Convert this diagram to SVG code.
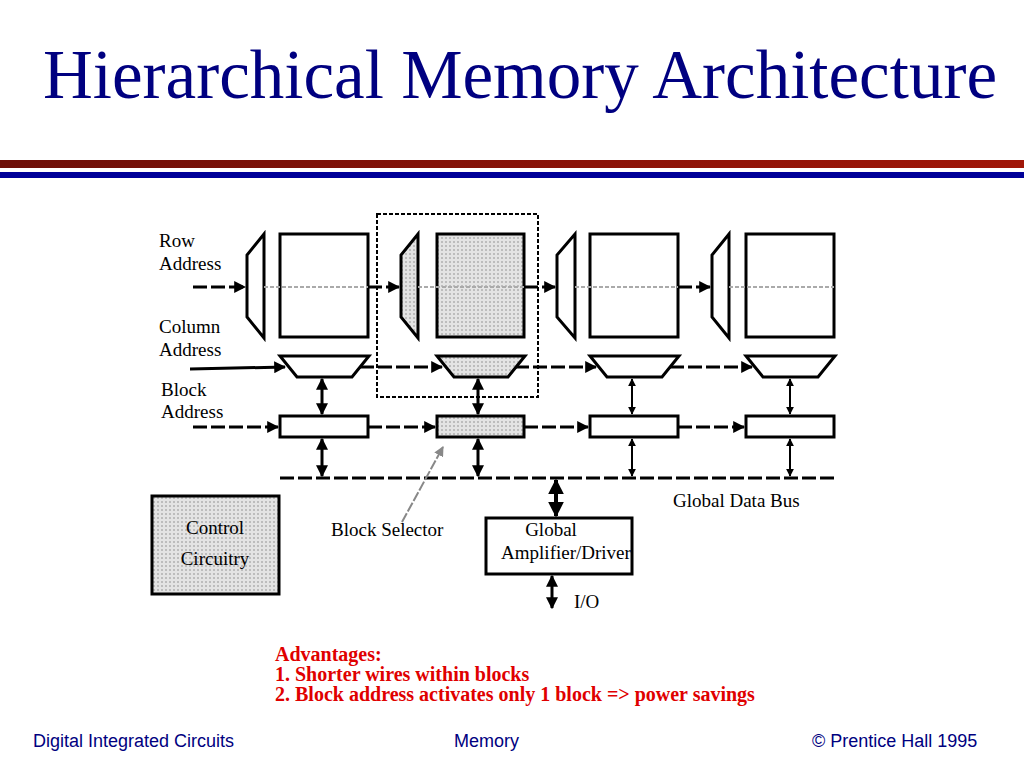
<svg xmlns="http://www.w3.org/2000/svg" width="1024" height="768" viewBox="0 0 1024 768">
<defs>
<linearGradient id="rg" x1="0" x2="1"><stop offset="0" stop-color="#6e0f08"/><stop offset="1" stop-color="#a01608"/></linearGradient>
<pattern id="dots" width="4" height="4" patternUnits="userSpaceOnUse"><rect width="4" height="4" fill="#e4e4e4"/><circle cx="2" cy="2" r="1" fill="#b0b0b0"/></pattern>
<marker id="ah" viewBox="0 0 10 10" refX="9" refY="5" markerWidth="4" markerHeight="4" orient="auto-start-reverse"><path d="M0,0L10,5L0,10z" fill="#000"/></marker>
<marker id="ag" viewBox="0 0 10 10" refX="9" refY="5" markerWidth="5" markerHeight="5" orient="auto"><path d="M0,0L10,5L0,10z" fill="#888"/></marker>
</defs>
<style>
.b{fill:#fff;stroke:#000;stroke-width:3}
.s{fill:url(#dots);stroke:#000;stroke-width:3}
.w{stroke:#000;stroke-width:3;fill:none}
.d{stroke:#000;stroke-width:3;fill:none;stroke-dasharray:14 4}
.g{stroke:#aaa;stroke-width:2;stroke-dasharray:4 2}
.t{font-family:"Liberation Serif",serif;font-size:19px;fill:#000}
.f{font-family:"Liberation Sans",sans-serif;font-size:18px;fill:#000080}
.r{font-family:"Liberation Serif",serif;font-size:20px;font-weight:bold;fill:#e00000}
</style>
<rect width="1024" height="768" fill="#fff"/>
<text x="520" y="98" text-anchor="middle" font-family="Liberation Serif,serif" font-size="69" fill="#000080">Hierarchical Memory Architecture</text>
<rect x="0" y="160" width="1024" height="8" fill="url(#rg)"/>
<rect x="0" y="172" width="1024" height="6" fill="#000099"/>

<g id="selection"><rect x="377" y="214" width="161" height="183" fill="none" stroke="#000" stroke-width="2" stroke-dasharray="4 2"/></g>

<g id="connectors">
<line class="d" x1="193" y1="287" x2="245" y2="287" marker-end="url(#ah)"/>
<line class="d" x1="368" y1="287" x2="399" y2="287" marker-end="url(#ah)"/>
<line class="d" x1="524" y1="287" x2="555" y2="287" marker-end="url(#ah)"/>
<line class="d" x1="678" y1="287" x2="710" y2="287" marker-end="url(#ah)"/>
<line class="w" x1="190" y1="369" x2="285" y2="367" stroke-width="2" marker-end="url(#ah)"/>
<line class="d" x1="360" y1="367" x2="442" y2="367" marker-end="url(#ah)"/>
<line class="d" x1="515" y1="367" x2="596" y2="367" marker-end="url(#ah)"/>
<line class="d" x1="670" y1="367" x2="752" y2="367" marker-end="url(#ah)"/>
<line class="d" x1="193" y1="427" x2="278" y2="427" marker-end="url(#ah)"/>
<line class="d" x1="368" y1="427" x2="435" y2="427" marker-end="url(#ah)"/>
<line class="d" x1="524" y1="427" x2="588" y2="427" marker-end="url(#ah)"/>
<line class="d" x1="678" y1="427" x2="744" y2="427" marker-end="url(#ah)"/>
<line class="d" x1="280" y1="478" x2="836" y2="478"/>
<g stroke="#000" stroke-width="3">
<line x1="322" y1="379" x2="322" y2="414" marker-start="url(#ah)" marker-end="url(#ah)"/>
<line x1="322" y1="439" x2="322" y2="476" marker-start="url(#ah)" marker-end="url(#ah)"/>
<line x1="478" y1="379" x2="478" y2="414" marker-start="url(#ah)" marker-end="url(#ah)"/>
<line x1="478" y1="439" x2="478" y2="476" marker-start="url(#ah)" marker-end="url(#ah)"/>
<line x1="632" y1="379" x2="632" y2="414" stroke-width="2" marker-start="url(#ah)" marker-end="url(#ah)"/>
<line x1="632" y1="439" x2="632" y2="476" stroke-width="2" marker-start="url(#ah)" marker-end="url(#ah)"/>
<line x1="790" y1="379" x2="790" y2="414" stroke-width="2" marker-start="url(#ah)" marker-end="url(#ah)"/>
<line x1="790" y1="439" x2="790" y2="476" stroke-width="2" marker-start="url(#ah)" marker-end="url(#ah)"/>
<line x1="556" y1="480" x2="556" y2="516" stroke-width="4" marker-start="url(#ah)" marker-end="url(#ah)"/>
<line x1="552" y1="576" x2="552" y2="608" marker-start="url(#ah)" marker-end="url(#ah)"/>
</g>
<line x1="402" y1="522" x2="443" y2="447" stroke="#888" stroke-width="2" stroke-dasharray="10 2" marker-end="url(#ag)"/>
</g>

<g id="block1">
<path class="b" d="M264,234L264,338L247,317L247,255Z" stroke-width="2.5"/>
<rect class="b" x="280" y="234" width="88" height="103"/>
<path class="b" d="M280,356L369,356L352,377L297,377Z" stroke-width="2.5"/>
<rect class="b" x="280" y="416" width="88" height="21"/>
<line class="g" x1="264" y1="287" x2="368" y2="287"/>
</g>
<g id="block2">
<path class="s" d="M418,234L418,338L401,317L401,255Z" stroke-width="2.5"/>
<rect class="s" x="437" y="234" width="87" height="103"/>
<path class="s" d="M437,356L525,356L508,377L454,377Z" stroke-width="2.5"/>
<rect class="s" x="437" y="416" width="87" height="21"/>
<line class="g" x1="418" y1="287" x2="524" y2="287"/>
</g>
<g id="block3">
<path class="b" d="M575,234L575,338L557,317L557,255Z" stroke-width="2.5"/>
<rect class="b" x="590" y="234" width="88" height="103"/>
<path class="b" d="M590,356L679,356L662,377L607,377Z" stroke-width="2.5"/>
<rect class="b" x="590" y="416" width="88" height="21"/>
<line class="g" x1="575" y1="287" x2="678" y2="287"/>
</g>
<g id="block4">
<path class="b" d="M729,234L729,338L712,317L712,255Z" stroke-width="2.5"/>
<rect class="b" x="746" y="234" width="88" height="103"/>
<path class="b" d="M746,356L835,356L818,377L763,377Z" stroke-width="2.5"/>
<rect class="b" x="746" y="416" width="88" height="21"/>
<line class="g" x1="729" y1="287" x2="834" y2="287"/>
</g>

<g id="control"><rect class="s" x="152" y="496" width="127" height="98" stroke-width="4"/>
<text class="t" x="215" y="534" text-anchor="middle">Control</text>
<text class="t" x="215" y="565" text-anchor="middle">Circuitry</text></g>
<g id="amp"><rect class="b" x="486" y="518" width="146" height="56"/>
<text class="t" x="551" y="536" text-anchor="middle">Global</text>
<text class="t" x="566" y="559" text-anchor="middle">Amplifier/Driver</text></g>

<g id="labels">
<text class="t" x="159" y="247">Row</text>
<text class="t" x="159" y="270">Address</text>
<text class="t" x="159" y="333">Column</text>
<text class="t" x="159" y="356">Address</text>
<text class="t" x="161" y="396">Block</text>
<text class="t" x="161" y="418">Address</text>
<text class="t" x="673" y="507">Global Data Bus</text>
<text class="t" x="331" y="536">Block Selector</text>
<text class="t" x="574" y="608">I/O</text>
<text class="r" x="275" y="661">Advantages:</text>
<text class="r" x="275" y="681">1. Shorter wires within blocks</text>
<text class="r" x="275" y="701">2. Block address activates only 1 block =&gt; power savings</text>
<text class="f" x="33" y="747">Digital Integrated Circuits</text>
<text class="f" x="454" y="747">Memory</text>
<text class="f" x="812" y="747">© Prentice Hall 1995</text>
</g>
</svg>
